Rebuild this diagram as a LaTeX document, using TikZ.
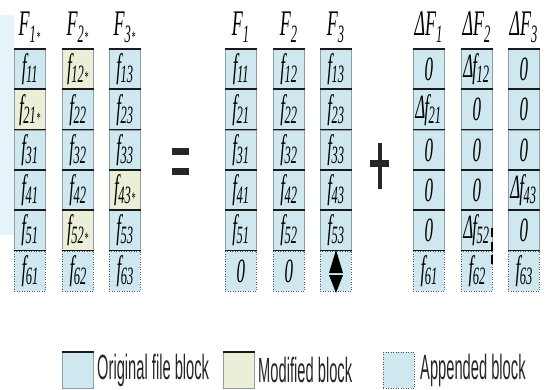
\documentclass[tikz,border=0pt]{standalone}
\usepackage{fontspec}
\newfontfamily\cellserif[FakeStretch=0.5]{Liberation Serif}
\newfontfamily\legsans[FakeStretch=0.42]{Liberation Sans}

\definecolor{blockblue}{HTML}{CFE8F0}
\definecolor{blockmod}{HTML}{ECEFD8}
\definecolor{blockedge}{HTML}{8C9EA6}
\definecolor{haze}{HTML}{E6F4F9}

% block labels: f_{ij}, with optional star for modified blocks
\newcommand\cellsub[1]{\raisebox{-5pt}{\fontsize{25}{25}\selectfont #1}}
\newcommand\modstar{\kern0.5pt{\fontsize{16}{16}\selectfont *}}
\newcommand\fij[1]{f\kern-0.5pt\cellsub{#1}}
\newcommand\dfij[1]{\kern-1pt Δ\kern-1pt f\kern-0.5pt\cellsub{#1}}
\newcommand\headsub[1]{\raisebox{-7pt}{\fontsize{25}{25}\selectfont #1}}

\tikzset{
  cellbox/.style={draw=blockedge, line width=0.5pt, fill=blockblue,
    minimum width=31pt, minimum height=40.3pt, inner sep=0pt,
    anchor=north west, font=\cellserif\itshape\fontsize{34}{34}\selectfont},
  modbox/.style={cellbox, fill=blockmod},
  appbox/.style={cellbox, draw=black!65, dotted, line width=0.8pt},
  topline/.style={line width=1.6pt, draw=black!90},
  headlbl/.style={inner sep=0pt, anchor=base,
    font=\cellserif\itshape\fontsize{36}{36}\selectfont},
  bar/.style={fill=black!85},
  legbox/.style={draw=blockedge, line width=0.5pt, fill=blockblue,
    minimum width=31pt, minimum height=36pt, inner sep=0pt, anchor=north west},
  legtext/.style={anchor=west, inner sep=0pt,
    font=\legsans\fontsize{35}{35}\selectfont, text=black!85},
}

% one column of six blocks: name, left x, list of style/text pairs
\newcommand\blockcol[3]{%
  \foreach \s/\t [count=\r] in {#3} {
    \node[\s] (#1r\r) at (#2, {49+(\r-1)*40.3}) {\t};
    \draw[topline] (#1r\r.north west) -- (#1r\r.north east);
  }}

\begin{document}
\begin{tikzpicture}[x=1pt,y=-1pt]
\useasboundingbox (0,0) rectangle (546,390);
\fill[haze] (0,15) rectangle (14,235);

% updated file F*
\blockcol{a1}{14}{cellbox/{\fij{11}}, modbox/{\fij{21\modstar}}, cellbox/{\fij{31}},
  cellbox/{\fij{41}}, cellbox/{\fij{51}}, appbox/{\fij{61}}}
\blockcol{a2}{62}{modbox/{\fij{12\modstar}}, cellbox/{\fij{22}}, cellbox/{\fij{32}},
  cellbox/{\fij{42}}, modbox/{\fij{52\modstar}}, appbox/{\fij{62}}}
\blockcol{a3}{109}{cellbox/{\fij{13}}, cellbox/{\fij{23}}, cellbox/{\fij{33}},
  modbox/{\fij{43\modstar}}, cellbox/{\fij{53}}, appbox/{\fij{63}}}

% original file F
\blockcol{b1}{225}{cellbox/{\fij{11}}, cellbox/{\fij{21}}, cellbox/{\fij{31}},
  cellbox/{\fij{41}}, cellbox/{\fij{51}}, appbox/{0}}
\blockcol{b2}{273}{cellbox/{\fij{12}}, cellbox/{\fij{22}}, cellbox/{\fij{32}},
  cellbox/{\fij{42}}, cellbox/{\fij{52}}, appbox/{0}}
\blockcol{b3}{320}{cellbox/{\fij{13}}, cellbox/{\fij{23}}, cellbox/{\fij{33}},
  cellbox/{\fij{43}}, cellbox/{\fij{53}}, appbox/{}}

% difference Delta F
\blockcol{c1}{413}{cellbox/{0}, cellbox/{\dfij{21}}, cellbox/{0},
  cellbox/{0}, cellbox/{0}, appbox/{\fij{61}}}
\blockcol{c2}{461}{cellbox/{\dfij{12}}, cellbox/{0}, cellbox/{0},
  cellbox/{0}, cellbox/{\dfij{52}}, appbox/{\fij{62}}}
\blockcol{c3}{508}{cellbox/{0}, cellbox/{0}, cellbox/{0},
  cellbox/{\dfij{43}}, cellbox/{0}, appbox/{\fij{63}}}

% column headings
\node[headlbl] (ha1) at (29.5,36)  {F\headsub{1\modstar}};
\node[headlbl] (ha2) at (77.5,36)  {F\headsub{2\modstar}};
\node[headlbl] (ha3) at (124.5,36) {F\headsub{3\modstar}};
\node[headlbl] (hb1) at (240.5,36) {F\headsub{1}};
\node[headlbl] (hb2) at (288.5,36) {F\headsub{2}};
\node[headlbl] (hb3) at (335.5,36) {F\headsub{3}};
\node[headlbl] (hc1) at (428.5,36) {ΔF\headsub{1}};
\node[headlbl] (hc2) at (476.5,36) {ΔF\headsub{2}};
\node[headlbl] (hc3) at (523.5,36) {ΔF\headsub{3}};

% equals and plus signs
\fill[bar] (172,148) rectangle (189,155.5);
\fill[bar] (172,168.5) rectangle (189,175.5);
\fill[bar] (378,143) rectangle (382,189);
\fill[bar] (370,160) rectangle (389,167);

% double arrow head in the last block of F3
\fill[black] (336,250) -- (343,273) -- (329,273) -- cycle;
\fill[black] (329,275) -- (343,275) -- (336,293) -- cycle;

% dashed marker beside Delta f52
\draw[line width=2.6pt, black, dash pattern=on 9pt off 4.5pt] (492,228) -- (492,266);

% legend
\node[legbox] (l1) at (62,352) {};
\draw[topline] (l1.north west) -- (l1.north east);
\node[legtext] (t1) at (97,370) {Original file block};
\node[legbox, fill=blockmod] (l2) at (223,352) {};
\draw[topline] (l2.north west) -- (l2.north east);
\node[legtext] (t2) at (258,370) {Modified block};
\node[legbox, draw=black!65, dotted, line width=0.8pt] (l3) at (383,352) {};
\node[legtext] (t3) at (420,370) {Appended block};
\end{tikzpicture}
\end{document}
